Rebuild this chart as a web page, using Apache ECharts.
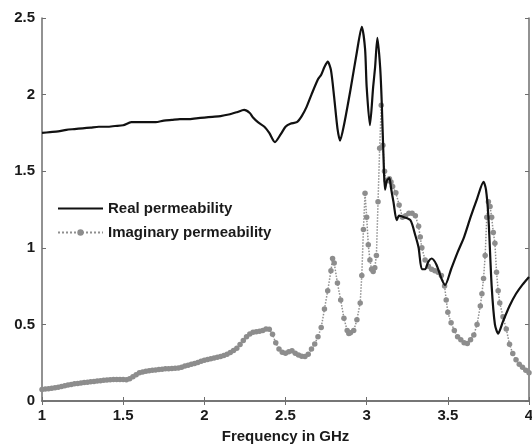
<!DOCTYPE html>
<html>
<head>
<meta charset="utf-8">
<script src="https://cdn.jsdelivr.net/npm/echarts@6/dist/echarts.min.js"></script>
<style>
html,body{margin:0;padding:0;background:#fff;}
#chart{width:532px;height:444px;}
</style>
</head>
<body>
<div id="chart"></div>
<script>
// Real permeability (solid black)
var realFreq = [1.00,1.05,1.10,1.15,1.20,1.25,1.30,1.35,1.40,1.45,1.50,1.55,1.60,1.65,1.70,1.75,1.80,1.85,1.90,1.95,2.00,2.05,2.10,2.15,2.20,2.245,2.28,2.30,2.33,2.37,2.40,2.435,2.47,2.50,2.53,2.57,2.60,2.63,2.66,2.70,2.72,2.74,2.76,2.78,2.80,2.82,2.836,2.86,2.90,2.94,2.97,2.99,3.00,3.02,3.04,3.052,3.066,3.083,3.093,3.105,3.113,3.125,3.14,3.15,3.165,3.185,3.20,3.23,3.27,3.30,3.32,3.34,3.36,3.38,3.40,3.43,3.46,3.483,3.52,3.56,3.60,3.64,3.68,3.72,3.735,3.75,3.77,3.79,3.81,3.84,3.88,3.92,3.96,4.00];
var realVal  = [1.75,1.755,1.76,1.77,1.775,1.78,1.785,1.79,1.79,1.795,1.80,1.82,1.82,1.82,1.82,1.83,1.835,1.84,1.84,1.845,1.85,1.855,1.86,1.87,1.885,1.90,1.88,1.85,1.82,1.79,1.75,1.69,1.74,1.79,1.81,1.82,1.86,1.92,2.00,2.10,2.13,2.18,2.215,2.16,1.98,1.78,1.70,1.80,2.03,2.28,2.443,2.30,2.05,1.80,2.05,2.18,2.37,2.18,1.945,1.55,1.38,1.44,1.455,1.39,1.30,1.18,1.21,1.20,1.18,1.08,1.00,0.86,0.86,0.91,0.93,0.89,0.80,0.757,0.86,0.97,1.07,1.20,1.32,1.43,1.38,1.20,0.75,0.50,0.44,0.52,0.62,0.70,0.76,0.81];

// Imaginary permeability (grey dotted with markers)
var imagFreq = [1.00,1.02,1.04,1.06,1.08,1.10,1.12,1.14,1.16,1.18,1.20,1.22,1.24,1.26,1.28,1.30,1.32,1.34,1.36,1.38,1.40,1.42,1.44,1.46,1.48,1.50,1.52,1.54,1.56,1.58,1.60,1.62,1.64,1.66,1.68,1.70,1.72,1.74,1.76,1.78,1.80,1.82,1.84,1.86,1.88,1.90,1.92,1.94,1.96,1.98,2.00,2.02,2.04,2.06,2.08,2.10,2.12,2.14,2.16,2.18,2.20,2.22,2.24,2.26,2.28,2.30,2.32,2.34,2.36,2.38,2.40,2.42,2.44,2.46,2.48,2.50,2.52,2.54,2.56,2.58,2.60,2.62,2.64,2.66,2.68,2.70,2.72,2.74,2.76,2.78,2.79,2.80,2.82,2.84,2.86,2.88,2.89,2.90,2.92,2.94,2.96,2.97,2.98,2.99,3.00,3.01,3.02,3.03,3.04,3.05,3.06,3.07,3.08,3.09,3.10,3.11,3.12,3.13,3.14,3.15,3.16,3.18,3.20,3.22,3.24,3.26,3.28,3.30,3.32,3.33,3.34,3.36,3.38,3.40,3.42,3.44,3.46,3.48,3.49,3.50,3.52,3.54,3.56,3.58,3.60,3.62,3.64,3.66,3.68,3.70,3.71,3.72,3.73,3.74,3.75,3.76,3.77,3.78,3.79,3.80,3.81,3.82,3.84,3.86,3.88,3.90,3.92,3.94,3.96,3.98,4.00];
var imagVal  = [0.075,0.078,0.080,0.083,0.086,0.090,0.095,0.100,0.104,0.108,0.112,0.115,0.118,0.120,0.122,0.125,0.127,0.130,0.132,0.135,0.137,0.138,0.140,0.141,0.141,0.140,0.138,0.145,0.158,0.172,0.184,0.190,0.195,0.198,0.200,0.203,0.206,0.208,0.210,0.211,0.212,0.213,0.216,0.221,0.228,0.234,0.240,0.245,0.252,0.260,0.266,0.271,0.276,0.281,0.286,0.291,0.297,0.305,0.316,0.330,0.345,0.368,0.395,0.420,0.438,0.448,0.452,0.455,0.460,0.470,0.468,0.435,0.380,0.340,0.318,0.312,0.322,0.328,0.312,0.300,0.292,0.290,0.305,0.340,0.372,0.420,0.480,0.600,0.720,0.850,0.930,0.900,0.770,0.660,0.540,0.460,0.440,0.445,0.460,0.530,0.640,0.820,1.120,1.356,1.200,1.020,0.920,0.860,0.845,0.870,0.950,1.300,1.650,1.930,1.670,1.500,1.440,1.440,1.450,1.430,1.400,1.360,1.280,1.200,1.210,1.225,1.225,1.210,1.140,1.070,1.000,0.920,0.880,0.860,0.850,0.840,0.820,0.750,0.660,0.580,0.510,0.460,0.420,0.400,0.380,0.375,0.400,0.430,0.500,0.620,0.700,0.800,0.950,1.200,1.300,1.270,1.200,1.100,1.030,0.840,0.720,0.640,0.550,0.470,0.370,0.310,0.270,0.240,0.220,0.200,0.185];

var seriesNames = ['Real permeability', 'Imaginary permeability'];
var xTitle = 'Frequency in GHz';

function zip(a, b) { return a.map(function (v, i) { return [v, b[i]]; }); }

var FONT = 'Liberation Sans, Arial, sans-serif';
var axisColor = '#6e6e6e';
var labelStyle = { color: '#1a1a1a', fontSize: 15, fontWeight: 'bold', fontFamily: FONT };

var chart = echarts.init(document.getElementById('chart'), null, { renderer: 'canvas' });
chart.setOption({
  backgroundColor: '#ffffff',
  animation: false,
  grid: { left: 42, right: 3, top: 18, bottom: 43, containLabel: false, outerBoundsMode: 'none' },
  legend: {
    orient: 'vertical', left: 52, top: 196,
    itemWidth: 45, itemHeight: 8, itemGap: 9,
    textStyle: { color: '#1a1a1a', fontSize: 15, fontWeight: 'bold', fontFamily: FONT },
    data: [
      { name: seriesNames[0], itemStyle: { opacity: 0 } },
      { name: seriesNames[1] }
    ]
  },
  xAxis: [{
    type: 'value', min: 1, max: 4, interval: 0.5, position: 'bottom',
    name: xTitle, nameLocation: 'middle', nameGap: 28,
    nameTextStyle: { color: '#1a1a1a', fontSize: 15, fontWeight: 'bold', fontFamily: FONT },
    axisLine: { show: true, lineStyle: { color: axisColor, width: 1.5 } },
    axisTick: { show: true, inside: true, length: 4, lineStyle: { color: axisColor } },
    axisLabel: Object.assign({ margin: 7 }, labelStyle),
    splitLine: { show: false }
  }, {
    type: 'value', min: 1, max: 4, interval: 0.5, position: 'top',
    axisLine: { show: true, lineStyle: { color: axisColor, width: 1.5 } },
    axisTick: { show: true, inside: true, length: 4, lineStyle: { color: axisColor } },
    axisLabel: { show: false }, splitLine: { show: false }
  }],
  yAxis: [{
    type: 'value', min: 0, max: 2.5, interval: 0.5, position: 'left',
    axisLine: { show: true, lineStyle: { color: axisColor, width: 1.5 } },
    axisTick: { show: true, inside: true, length: 4, lineStyle: { color: axisColor } },
    axisLabel: Object.assign({ margin: 7 }, labelStyle),
    splitLine: { show: false }
  }, {
    type: 'value', min: 0, max: 2.5, interval: 0.5, position: 'right',
    axisLine: { show: true, lineStyle: { color: axisColor, width: 1.5 } },
    axisTick: { show: true, inside: true, length: 4, lineStyle: { color: axisColor } },
    axisLabel: { show: false }, splitLine: { show: false }
  }],
  series: [{
    name: seriesNames[0], type: 'line', xAxisIndex: 0, yAxisIndex: 0,
    data: zip(realFreq, realVal),
    symbol: 'none', smooth: 0.25,
    lineStyle: { color: '#111111', width: 2.2 },
    itemStyle: { color: '#111111' }, z: 3
  }, {
    name: seriesNames[1], type: 'line', xAxisIndex: 0, yAxisIndex: 0,
    data: zip(imagFreq, imagVal),
    symbol: 'circle', symbolSize: 5.5, showAllSymbol: true,
    lineStyle: { color: '#8f8f8f', width: 1.5, type: 'dotted' },
    itemStyle: { color: '#8d8d8d', borderWidth: 0 }, z: 2
  }]
});
</script>
</body>
</html>
